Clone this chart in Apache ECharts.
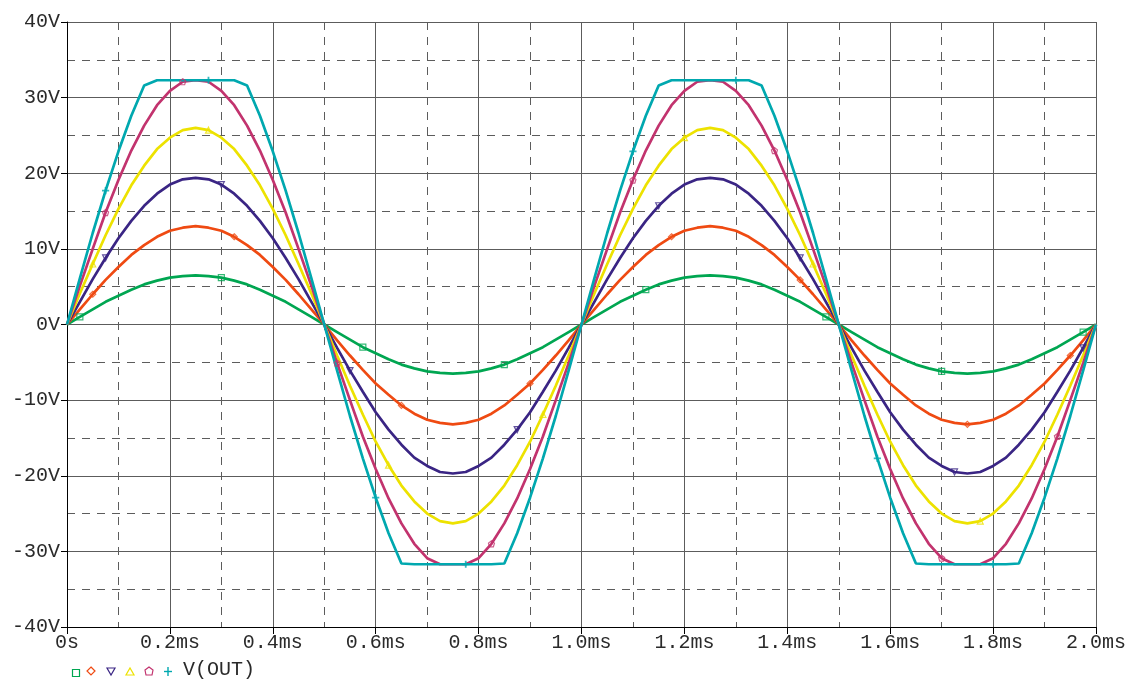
<!DOCTYPE html>
<html>
<head>
<meta charset="utf-8">
<script src="https://cdn.jsdelivr.net/npm/echarts@6/dist/echarts.min.js"></script>
<style>
html,body{margin:0;padding:0;background:#fff;}
#c{width:1132px;height:682px;}
</style>
</head>
<body>
<div id="c"></div>
<script>
// time in ms (step 0.025 ms)
const timeMs = [0,0.025,0.05,0.075,0.1,0.125,0.15,0.175,0.2,0.225,0.25,0.275,0.3,0.325,0.35,0.375,0.4,0.425,0.45,0.475,0.5,
0.525,0.55,0.575,0.6,0.625,0.65,0.675,0.7,0.725,0.75,0.775,0.8,0.825,0.85,0.875,0.9,0.925,0.95,0.975,1.0,
1.025,1.05,1.075,1.1,1.125,1.15,1.175,1.2,1.225,1.25,1.275,1.3,1.325,1.35,1.375,1.4,1.425,1.45,1.475,1.5,
1.525,1.55,1.575,1.6,1.625,1.65,1.675,1.7,1.725,1.75,1.775,1.8,1.825,1.85,1.875,1.9,1.925,1.95,1.975,2.0];

const vGreen = [0,1.0,2.0,3.0,3.8,4.6,5.3,5.8,6.2,6.4,6.5,6.4,6.2,5.8,5.3,4.6,3.8,3.0,2.0,1.0,0,
-1.0,-2.0,-3.0,-3.8,-4.6,-5.3,-5.8,-6.2,-6.4,-6.5,-6.4,-6.2,-5.8,-5.3,-4.6,-3.8,-3.0,-2.0,-1.0,0,
1.0,2.0,3.0,3.8,4.6,5.3,5.8,6.2,6.4,6.5,6.4,6.2,5.8,5.3,4.6,3.8,3.0,2.0,1.0,0,
-1.0,-2.0,-3.0,-3.8,-4.6,-5.3,-5.8,-6.2,-6.4,-6.5,-6.4,-6.2,-5.8,-5.3,-4.6,-3.8,-3.0,-2.0,-1.0,0];

const vOrange = [0,2.0,4.0,5.9,7.6,9.2,10.5,11.6,12.4,12.8,13.0,12.8,12.4,11.6,10.5,9.2,7.6,5.9,4.0,2.0,0,
-2.1,-4.1,-6.0,-7.8,-9.3,-10.7,-11.8,-12.6,-13.0,-13.2,-13.0,-12.6,-11.8,-10.7,-9.3,-7.8,-6.0,-4.1,-2.1,0,
2.0,4.0,5.9,7.6,9.2,10.5,11.6,12.4,12.8,13.0,12.8,12.4,11.6,10.5,9.2,7.6,5.9,4.0,2.0,0,
-2.1,-4.1,-6.0,-7.8,-9.3,-10.7,-11.8,-12.6,-13.0,-13.2,-13.0,-12.6,-11.8,-10.7,-9.3,-7.8,-6.0,-4.1,-2.1,0];

const vPurple = [0,3.0,6.0,8.8,11.4,13.7,15.7,17.3,18.5,19.2,19.4,19.2,18.5,17.3,15.7,13.7,11.4,8.8,6.0,3.0,0,
-3.1,-6.1,-8.9,-11.6,-13.9,-15.9,-17.6,-18.7,-19.5,-19.7,-19.5,-18.7,-17.6,-15.9,-13.9,-11.6,-8.9,-6.1,-3.1,0,
3.0,6.0,8.8,11.4,13.7,15.7,17.3,18.5,19.2,19.4,19.2,18.5,17.3,15.7,13.7,11.4,8.8,6.0,3.0,0,
-3.1,-6.1,-8.9,-11.6,-13.9,-15.9,-17.6,-18.7,-19.5,-19.7,-19.5,-18.7,-17.6,-15.9,-13.9,-11.6,-8.9,-6.1,-3.1,0];

const vYellow = [0,4.1,8.0,11.8,15.3,18.4,21.0,23.2,24.7,25.7,26.0,25.7,24.7,23.2,21.0,18.4,15.3,11.8,8.0,4.1,0,
-4.1,-8.1,-11.9,-15.5,-18.6,-21.3,-23.4,-25.0,-26.0,-26.3,-26.0,-25.0,-23.4,-21.3,-18.6,-15.5,-11.9,-8.1,-4.1,0,
4.1,8.0,11.8,15.3,18.4,21.0,23.2,24.7,25.7,26.0,25.7,24.7,23.2,21.0,18.4,15.3,11.8,8.0,4.1,0,
-4.1,-8.1,-11.9,-15.5,-18.6,-21.3,-23.4,-25.0,-26.0,-26.3,-26.0,-25.0,-23.4,-21.3,-18.6,-15.5,-11.9,-8.1,-4.1,0];

const vMagenta = [0,5.1,10.0,14.8,19.1,23.0,26.3,29.0,30.9,32.1,32.3,32.1,30.9,29.0,26.3,23.0,19.1,14.8,10.0,5.1,0,
-5.1,-10.0,-14.8,-19.1,-23.0,-26.3,-29.0,-30.9,-31.7,-31.7,-31.7,-30.9,-29.0,-26.3,-23.0,-19.1,-14.8,-10.0,-5.1,0,
5.1,10.0,14.8,19.1,23.0,26.3,29.0,30.9,32.1,32.3,32.1,30.9,29.0,26.3,23.0,19.1,14.8,10.0,5.1,0,
-5.1,-10.0,-14.8,-19.1,-23.0,-26.3,-29.0,-30.9,-31.7,-31.7,-31.7,-30.9,-29.0,-26.3,-23.0,-19.1,-14.8,-10.0,-5.1,0];

const vTeal = [0,6.1,12.1,17.7,22.9,27.6,31.6,32.3,32.3,32.3,32.3,32.3,32.3,32.3,31.6,27.6,22.9,17.7,12.1,6.1,0,
-6.1,-12.1,-17.7,-22.9,-27.6,-31.6,-31.7,-31.7,-31.7,-31.7,-31.7,-31.7,-31.7,-31.6,-27.6,-22.9,-17.7,-12.1,-6.1,0,
6.1,12.1,17.7,22.9,27.6,31.6,32.3,32.3,32.3,32.3,32.3,32.3,32.3,31.6,27.6,22.9,17.7,12.1,6.1,0,
-6.1,-12.1,-17.7,-22.9,-27.6,-31.6,-31.7,-31.7,-31.7,-31.7,-31.7,-31.7,-31.7,-31.6,-27.6,-22.9,-17.7,-12.1,-6.1,0];

// indices of the sparse trace markers
const mkGreen = [1,12,23,34,45,59,68,79];
const mkOrange = [2,13,26,36,47,57,70,78];
const mkPurple = [3,12,22,35,46,57,69,79];
const mkYellow = [2,11,25,37,48,58,71];
const mkMagenta = [3,9,21,33,44,55,68,77];
const mkTeal = [3,11,24,31,44,52,63,72];

const traces = [
  {name:'V(OUT) 1', values:vGreen, marks:mkGreen, color:'#00A651', symbol:'rect', rot:0},
  {name:'V(OUT) 2', values:vOrange, marks:mkOrange, color:'#EF4A12', symbol:'diamond', rot:0},
  {name:'V(OUT) 3', values:vPurple, marks:mkPurple, color:'#3A2584', symbol:'triangle', rot:180},
  {name:'V(OUT) 4', values:vYellow, marks:mkYellow, color:'#EDE200', symbol:'triangle', rot:0},
  {name:'V(OUT) 5', values:vMagenta, marks:mkMagenta, color:'#C2336E', symbol:'path://M0,-10 L9.5,-3 L6,8 L-6,8 L-9.5,-3 Z', rot:0},
  {name:'V(OUT) 6', values:vTeal, marks:mkTeal, color:'#00A8AF', symbol:'path://M-1,-10 L1,-10 L1,-1 L10,-1 L10,1 L1,1 L1,10 L-1,10 L-1,1 L-10,1 L-10,-1 L-1,-1 Z', rot:0}
];

const FONT = '"Liberation Mono", "DejaVu Sans Mono", monospace';
const gridCol = '#5c5c5c';

const series = [];
traces.forEach(t => {
  series.push({
    type:'line', name:t.name, symbol:'none', smooth:false,
    lineStyle:{color:t.color, width:2.7}, itemStyle:{color:t.color},
    data: timeMs.map((x,i)=>[x, t.values[i]]), animation:false, silent:true
  });
});
traces.forEach(t => {
  series.push({
    type:'scatter', name:t.name+' m', symbol:t.symbol, symbolRotate:t.rot, symbolSize:6,
    itemStyle:{color:'rgba(255,255,255,0)', borderColor:t.color, borderWidth:1.2},
    data: t.marks.map(i=>[timeMs[i], t.values[i]]), animation:false, silent:true, z:3
  });
});

const chart = echarts.init(document.getElementById('c'), null, {renderer:'canvas'});
chart.setOption({
  backgroundColor:'#fff',
  animation:false,
  grid:{left:67, right:36, top:22, bottom:55, containLabel:false},
  xAxis:{
    type:'value', min:0, max:2.0, interval:0.2,
    axisLine:{show:true, onZero:false, lineStyle:{color:'#000', width:1}},
    axisTick:{show:true, inside:false, length:7, lineStyle:{color:'#000', width:1}},
    axisLabel:{margin:6, color:'#2a2a2a', fontFamily:FONT, fontSize:20,
      formatter:v => v===0 ? '0s' : v.toFixed(1)+'ms'},
    splitLine:{show:true, lineStyle:{color:gridCol, width:1}},
    minorTick:{show:false, splitNumber:2},
    minorSplitLine:{show:true, lineStyle:{color:gridCol, width:1, type:[8,7]}}
  },
  yAxis:{
    type:'value', min:-40, max:40, interval:10,
    axisLine:{show:true, onZero:false, lineStyle:{color:'#000', width:1}},
    axisTick:{show:true, inside:false, length:6, lineStyle:{color:'#000', width:1}},
    axisLabel:{margin:7, color:'#2a2a2a', fontFamily:FONT, fontSize:20,
      formatter:v => v+'V'},
    splitLine:{show:true, lineStyle:{color:gridCol, width:1}},
    minorTick:{show:false, splitNumber:2},
    minorSplitLine:{show:true, lineStyle:{color:gridCol, width:1, type:[8,7]}}
  },
  graphic:[
    {type:'rect', left:70, top:667, shape:{width:7, height:7}, style:{fill:'none', stroke:'#00A651', lineWidth:1.2}},
    {type:'polygon', shape:{points:[[91,667],[95,671],[91,675],[87,671]]}, style:{fill:'none', stroke:'#EF4A12', lineWidth:1.2}},
    {type:'polygon', shape:{points:[[107,668],[115,668],[111,675]]}, style:{fill:'none', stroke:'#3A2584', lineWidth:1.2}},
    {type:'polygon', shape:{points:[[126,675],[134,675],[130,668]]}, style:{fill:'none', stroke:'#EDE200', lineWidth:1.2}},
    {type:'polygon', shape:{points:[[149,667],[153,670],[152,675],[146,675],[145,670]]}, style:{fill:'none', stroke:'#C2336E', lineWidth:1.2}},
    {type:'line', shape:{x1:168, y1:667, x2:168, y2:676}, style:{stroke:'#00A8AF', lineWidth:1.4}},
    {type:'line', shape:{x1:164, y1:671.5, x2:172, y2:671.5}, style:{stroke:'#00A8AF', lineWidth:1.4}},
    {type:'text', left:183, top:660, style:{text:'V(OUT)', fill:'#2a2a2a', font:'20px "Liberation Mono", monospace'}}
  ],
  series: series
});
</script>
</body>
</html>
